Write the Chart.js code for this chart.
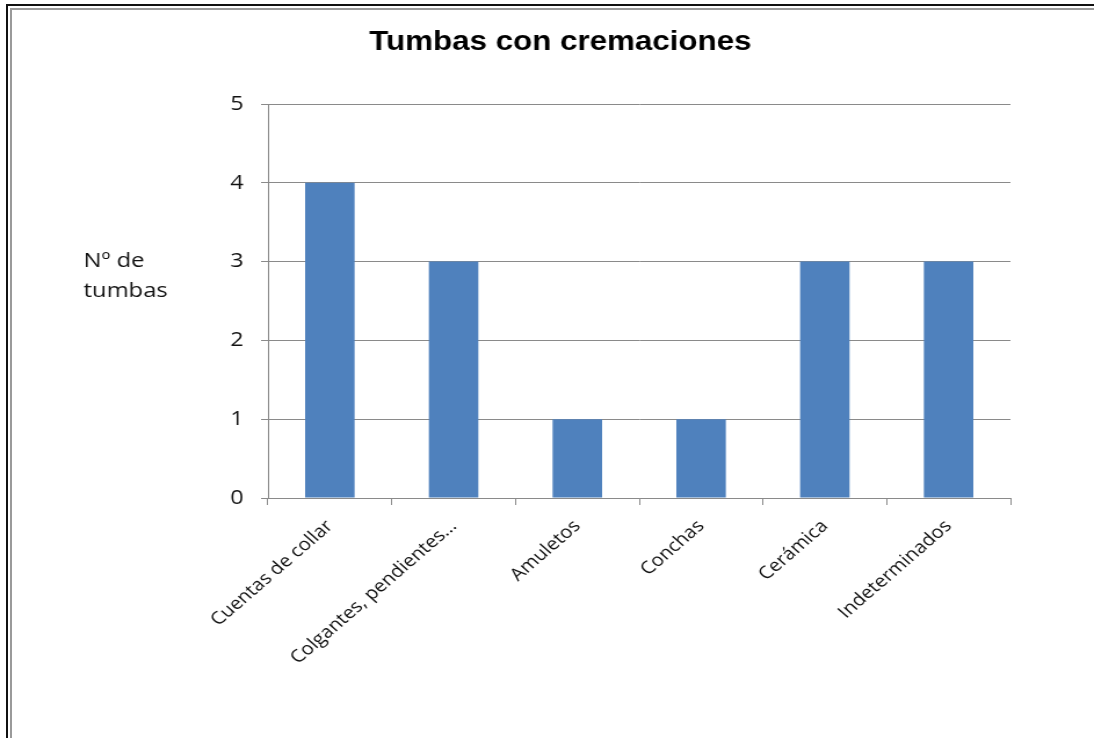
<!doctype html>
<html lang="es">
<head>
  <meta charset="utf-8">
  <title>Tumbas con cremaciones</title>
  <script src="https://cdn.jsdelivr.net/npm/chart.js"></script>
  <style>
    html, body { margin: 0; padding: 0; background: #fff; overflow: hidden; }
    #wrap { position: relative; width: 1094px; height: 738px; overflow: hidden; }
    /* marco doble: negro por fuera, gris por dentro (sólo arriba e izquierda) */
    #marco1 { position: absolute; left: 6px; top: 4px; width: 1200px; height: 800px;
              border-left: 2px solid #111; border-top: 2px solid #111; }
    #marco2 { position: absolute; left: 10px; top: 8px; width: 1200px; height: 800px;
              border-left: 2px solid #9a9a9a; border-top: 2px solid #9a9a9a; }
    /* el gráfico va estirado en horizontal */
    #tumbas { position: absolute; left: 0; top: 0;
              transform: scaleX(1.1601); transform-origin: 0 0; }
  </style>
</head>
<body>
<div id="wrap">
  <div id="marco1"></div>
  <div id="marco2"></div>
  <canvas id="tumbas" width="943" height="738"></canvas>
</div>

<script>
var categorias = ['Cuentas de collar', 'Colgantes, pendientes...', 'Amuletos', 'Conchas', 'Cerámica', 'Indeterminados'];
var numTumbas = [4, 3, 1, 1, 3, 3];
var ticksY = [0, 1, 2, 3, 4, 5];
var tituloEjeY = ['Nº de', 'tumbas'];

var gris = '#8a8a8a';
var fuente = "'Open Sans', 'DejaVu Sans', sans-serif";

// rótulo del eje Y en horizontal, a la izquierda de las marcas
var rotuloEjeY = {
  id: 'rotuloEjeY',
  afterDraw: function(chart) {
    var ctx = chart.ctx;
    ctx.save();
    ctx.fillStyle = '#111';
    ctx.font = '20.5px ' + fuente;
    ctx.textAlign = 'left';
    ctx.textBaseline = 'alphabetic';
    ctx.fillText(tituloEjeY[0], 72, 267);
    ctx.fillText(tituloEjeY[1], 72, 297);
    ctx.restore();
  }
};

new Chart(document.getElementById('tumbas'), {
  type: 'bar',
  data: {
    labels: categorias,
    datasets: [{
      data: numTumbas,
      backgroundColor: '#4F81BD',
      borderWidth: 0,
      categoryPercentage: 1,
      barPercentage: 0.4
    }]
  },
  options: {
    responsive: false,
    animation: false,
    layout: { padding: { left: 95, right: 72, top: 20, bottom: 0 } },
    plugins: {
      legend: { display: false },
      tooltip: { enabled: false },
      title: {
        display: true,
        text: 'Tumbas con cremaciones',
        color: '#000',
        font: { family: "'Liberation Sans', Arial, sans-serif", size: 27, weight: 'bold', lineHeight: 1.2 },
        padding: { top: 6, bottom: 45.6 }
      }
    },
    scales: {
      x: {
        grid: { display: true, drawOnChartArea: false, drawTicks: true, tickLength: 7, color: gris, offset: true },
        border: { color: gris, width: 1 },
        ticks: {
          color: '#111',
          font: { family: fuente, size: 17.5 },
          minRotation: 45,
          maxRotation: 45,
          padding: 11
        },
        afterFit: function(scale) { scale.height = 240; }
      },
      y: {
        min: 0,
        max: 5,
        afterBuildTicks: function(scale) {
          scale.ticks = ticksY.map(function(v) { return { value: v }; });
        },
        grid: { color: gris, tickLength: 6, drawTicks: true },
        border: { color: gris, width: 1 },
        ticks: {
          color: '#111',
          font: { family: fuente, size: 20 },
          padding: 15
        },
        afterFit: function(scale) { scale.width = 136; }
      }
    }
  },
  plugins: [rotuloEjeY]
});
</script>
</body>
</html>
